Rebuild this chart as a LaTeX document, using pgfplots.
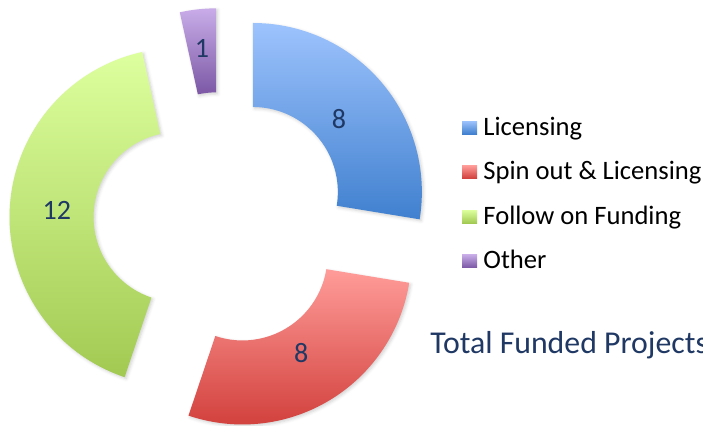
\documentclass[border=0pt]{standalone}
\usepackage{pgfplots}
\pgfplotsset{compat=1.18}
\usepackage{pgfplotstable}
\usetikzlibrary{shadows.blur}
\usepackage{fontspec}
\setmainfont{Carlito}

\definecolor{licTop}{HTML}{9DC3FD}
\definecolor{licBot}{HTML}{4080CF}
\definecolor{spinTop}{HTML}{FF9C99}
\definecolor{spinBot}{HTML}{D13F3B}
\definecolor{follTop}{HTML}{DDFF9E}
\definecolor{follBot}{HTML}{A2CA52}
\definecolor{othTop}{HTML}{C8ACE8}
\definecolor{othBot}{HTML}{7C58A5}
\definecolor{navy}{HTML}{1F3864}

% funded projects per outcome
\pgfplotstableread{
seg value
0 8
1 8
2 12
3 1
}\fundtable

\pgfplotstablegetelem{0}{value}\of\fundtable\let\vA\pgfplotsretval
\pgfplotstablegetelem{1}{value}\of\fundtable\let\vB\pgfplotsretval
\pgfplotstablegetelem{2}{value}\of\fundtable\let\vC\pgfplotsretval
\pgfplotstablegetelem{3}{value}\of\fundtable\let\vD\pgfplotsretval
\pgfmathsetmacro\total{\vA+\vB+\vC+\vD}

% geometry in pixel units (1 unit = 0.5pt)
\def\cx{220.7}\def\cy{205.7}\def\ex{42.2}\def\Ro{169}\def\Ri{85}

\tikzset{
  lbl/.style={text=navy,font=\fontsize{14}{16}\selectfont,inner sep=0pt},
  segshadow/.style={blur shadow={shadow xshift=0.8pt,shadow yshift=-0.8pt,
    shadow opacity=18,shadow blur steps=4,shadow blur radius=1.5pt}}}

% #1 start (cumulative), #2 value, #3/#4 top/bottom colour, #5 label radius
\newcommand\segment[5]{%
  \pgfmathsetmacro\aA{90-#1*360/\total}%
  \pgfmathsetmacro\aB{90-(#1+#2)*360/\total}%
  \pgfmathsetmacro\aM{(\aA+\aB)/2}%
  \pgfmathsetmacro\sx{\cx+\ex*cos(\aM)}%
  \pgfmathsetmacro\sy{\cy+\ex*sin(\aM)}%
  \pgfmathsetmacro\px{\sx+\Ro*cos(\aA)}%
  \pgfmathsetmacro\py{\sy+\Ro*sin(\aA)}%
  \pgfmathsetmacro\qx{\sx+\Ri*cos(\aB)}%
  \pgfmathsetmacro\qy{\sy+\Ri*sin(\aB)}%
  \pgfmathsetmacro\lx{\sx+#5*cos(\aM)}%
  \pgfmathsetmacro\ly{\sy+#5*sin(\aM)}%
  \edef\temp{%
    \noexpand\shade[segshadow,top color=#3,bottom color=#4]
      (axis cs:\px,\py) arc[start angle=\aA,end angle=\aB,radius=\Ro*0.5pt]
      -- (axis cs:\qx,\qy) arc[start angle=\aB,end angle=\aA,radius=\Ri*0.5pt] -- cycle;
    \noexpand\node[lbl] at (axis cs:\lx,\ly) {#2};}%
  \temp}

% legend entry: #1 row centre (y), #2/#3 colours, #4 text
\newcommand\legentry[4]{%
  \shade[top color=#2,bottom color=#3] (axis cs:462,#1-6.5) rectangle (axis cs:477,#1+6.5);
  \node[anchor=base west,inner sep=0pt,font=\fontsize{13.3}{15}\selectfont] at (axis cs:483,#1-7.5) {#4};}

\begin{document}
\begin{tikzpicture}
\useasboundingbox (0,0) rectangle (351.5pt,212.5pt);
\clip (0,0) rectangle (351.5pt,212.5pt);
\begin{axis}[
  x=0.5pt,y=0.5pt,
  xmin=0,xmax=703,ymin=0,ymax=425,
  hide axis,clip=false,
  anchor=south west,at={(0,0)}]
\pgfmathsetmacro\sA{0}
\pgfmathsetmacro\sB{\vA}
\pgfmathsetmacro\sC{\vA+\vB}
\pgfmathsetmacro\sD{\vA+\vB+\vC}
\segment{\sA}{\vA}{licTop}{licBot}{113}
\segment{\sB}{\vB}{spinTop}{spinBot}{114}
\segment{\sC}{\vC}{follTop}{follBot}{122}
\segment{\sD}{\vD}{othTop}{othBot}{130}

\legentry{297.5}{licTop}{licBot}{Licensing}
\legentry{253}{spinTop}{spinBot}{Spin out \& Licensing}
\legentry{208.5}{follTop}{follBot}{Follow on Funding}
\legentry{164}{othTop}{othBot}{Other}

\node[anchor=base west,inner sep=0pt,text=navy,font=\fontsize{15.9}{18}\selectfont]
  at (axis cs:430,71.7) {Total Funded Projects};
\end{axis}
\end{tikzpicture}
\end{document}
